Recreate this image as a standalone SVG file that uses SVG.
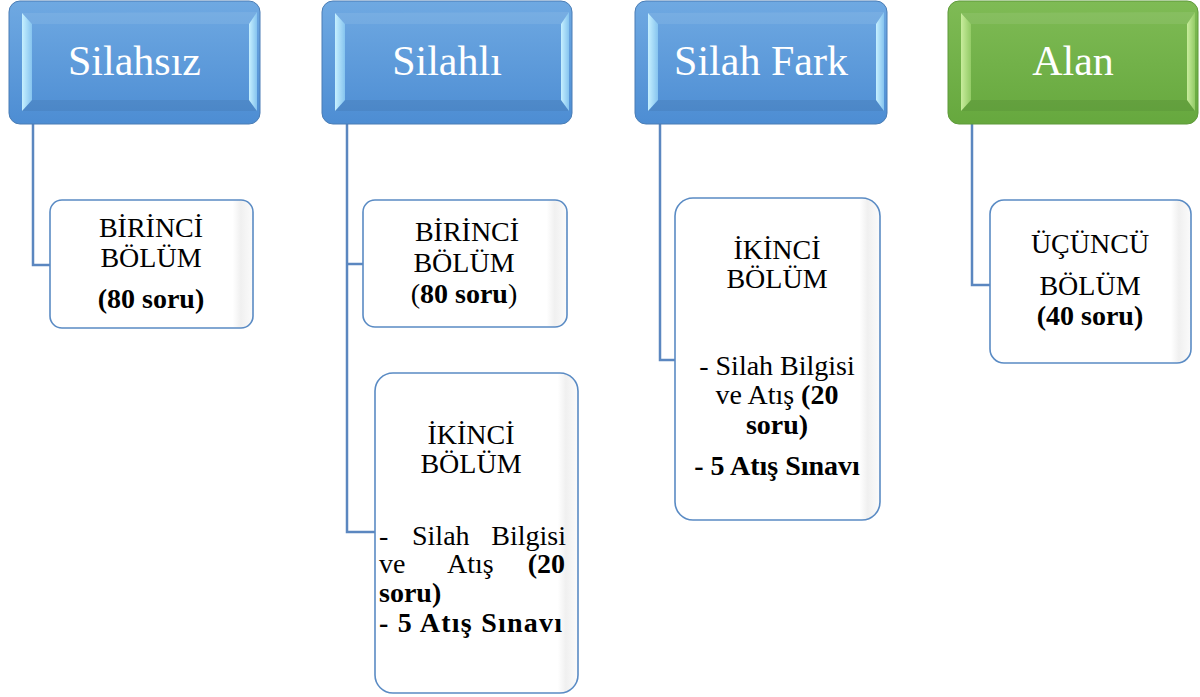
<svg xmlns="http://www.w3.org/2000/svg" width="1200" height="697" viewBox="0 0 1200 697">
<style>
.hdr-t{font-family:"Liberation Serif","Times New Roman",serif;font-size:42px;fill:#ffffff;text-anchor:middle}
.t{font-family:"Liberation Serif","Times New Roman",serif;font-size:28px;fill:#000000}
.c{text-anchor:middle}
.b{font-weight:bold}
.conn{fill:none;stroke:#5b87c0;stroke-width:2.5}
.child{fill:url(#whiteFill);stroke:#5a8bc4;stroke-width:1.6}
.blue{fill:url(#blueFill);stroke:#4a7db5;stroke-width:1}
.green{fill:url(#greenFill);stroke:#5f9a3a;stroke-width:1}
.bl{fill:url(#bevelL)}
.bt{fill:#ffffff;fill-opacity:0.08}
.bb{fill:#000000;fill-opacity:0.06}
.blg{fill:url(#bevelLG)}
</style>
<defs>
<linearGradient id="blueFill" x1="0" y1="0" x2="0" y2="1">
<stop offset="0" stop-color="#6fa9e2"/>
<stop offset="1" stop-color="#4d8dd3"/>
</linearGradient>
<linearGradient id="greenFill" x1="0" y1="0" x2="0" y2="1">
<stop offset="0" stop-color="#7fbb55"/>
<stop offset="1" stop-color="#66a83e"/>
</linearGradient>
<linearGradient id="bevelL" x1="0" y1="0" x2="1" y2="0">
<stop offset="0" stop-color="#c6f0ff"/>
<stop offset="1" stop-color="#86c4ef"/>
</linearGradient>
<linearGradient id="bevelLG" x1="0" y1="0" x2="1" y2="0">
<stop offset="0" stop-color="#c8ec9c"/>
<stop offset="1" stop-color="#93cb66"/>
</linearGradient>
<linearGradient id="whiteFill" x1="0" y1="0" x2="1" y2="0">
<stop offset="0" stop-color="#ffffff"/>
<stop offset="0.9" stop-color="#ffffff"/>
<stop offset="0.94" stop-color="#f0f0f0"/>
<stop offset="1" stop-color="#fbfbfb"/>
</linearGradient>
</defs>
<rect width="1200" height="697" fill="#ffffff"/>

<g id="connectors">
<path class="conn" d="M33,124 V265 H50"/>
<path class="conn" d="M347,124 V532 H375"/>
<path class="conn" d="M347,264 H363"/>
<path class="conn" d="M660,124 V360 H675"/>
<path class="conn" d="M972,124 V285 H990"/>
</g>

<g id="silahsiz">
<rect class="blue" x="9" y="1" width="251" height="123" rx="11"/>
<polygon class="bt" points="22,13 257,12 249,24 32,24"/>
<polygon class="bb" points="32,100 249,100 257,111 22,111"/>
<polygon class="bl" points="22,13 32,24 32,100 22,111"/>
<polygon class="bl" points="257,12 249,24 249,100 257,111"/>
<text class="hdr-t" x="134.5" y="75">Silahsız</text>
</g>

<g id="silahli">
<rect class="blue" x="322" y="1" width="250" height="123" rx="11"/>
<polygon class="bt" points="335,13 569,12 561,24 345,24"/>
<polygon class="bb" points="345,100 561,100 569,111 335,111"/>
<polygon class="bl" points="335,13 345,24 345,100 335,111"/>
<polygon class="bl" points="569,12 561,24 561,100 569,111"/>
<text class="hdr-t" x="447" y="75">Silahlı</text>
</g>

<g id="silahfark">
<rect class="blue" x="635" y="1" width="252" height="123" rx="11"/>
<polygon class="bt" points="648,13 884,12 876,24 658,24"/>
<polygon class="bb" points="658,100 876,100 884,111 648,111"/>
<polygon class="bl" points="648,13 658,24 658,100 648,111"/>
<polygon class="bl" points="884,12 876,24 876,100 884,111"/>
<text class="hdr-t" x="761" y="75">Silah Fark</text>
</g>

<g id="alan">
<rect class="green" x="948" y="1" width="250" height="123" rx="11"/>
<polygon class="bt" points="961,13 1195,12 1187,24 971,24"/>
<polygon class="bb" points="971,100 1187,100 1195,111 961,111"/>
<polygon class="blg" points="961,13 971,24 971,100 961,111"/>
<polygon class="blg" points="1195,12 1187,24 1187,100 1195,111"/>
<text class="hdr-t" x="1073" y="75">Alan</text>
</g>

<g id="silahsiz-birinci">
<rect class="child" x="50" y="200" width="203" height="128" rx="12"/>
<text class="t c" x="151" y="237">BİRİNCİ</text>
<text class="t c" x="151" y="267">BÖLÜM</text>
<text class="t c b" x="151" y="308">(80 soru)</text>
</g>

<g id="silahli-birinci">
<rect class="child" x="363" y="200" width="204" height="127" rx="12"/>
<text class="t c" x="467" y="241">BİRİNCİ</text>
<text class="t c" x="464" y="272">BÖLÜM</text>
<text class="t c" x="464" y="303"><tspan>(</tspan><tspan class="b">80 soru</tspan><tspan>)</tspan></text>
</g>

<g id="silahli-ikinci">
<rect class="child" x="375" y="373" width="203" height="320" rx="18"/>
<text class="t c" x="471" y="444">İKİNCİ</text>
<text class="t c" x="471" y="473">BÖLÜM</text>
<text class="t" x="379" y="545">-</text>
<text class="t" x="412" y="545">Silah</text>
<text class="t" x="566" y="545" text-anchor="end">Bilgisi</text>
<text class="t" x="379" y="573">ve</text>
<text class="t" x="447" y="573">Atış</text>
<text class="t b" x="565" y="573" text-anchor="end">(20</text>
<text class="t b" x="379" y="602">soru)</text>
<text class="t b" x="379" y="632" textLength="183" lengthAdjust="spacing">- 5 Atış Sınavı</text>
</g>

<g id="silahfark-ikinci">
<rect class="child" x="675" y="198" width="205" height="322" rx="18"/>
<text class="t c" x="777" y="259">İKİNCİ</text>
<text class="t c" x="777" y="288">BÖLÜM</text>
<text class="t c" x="777" y="375">- Silah Bilgisi</text>
<text class="t c" x="777" y="404">ve Atış <tspan class="b">(20</tspan></text>
<text class="t c b" x="777" y="434">soru)</text>
<text class="t c b" x="777" y="475">- 5 Atış Sınavı</text>
</g>

<g id="alan-ucuncu">
<rect class="child" x="990" y="200" width="201" height="163" rx="14"/>
<text class="t c" x="1090" y="253">ÜÇÜNCÜ</text>
<text class="t c" x="1090" y="295">BÖLÜM</text>
<text class="t c b" x="1090" y="325">(40 soru)</text>
</g>
</svg>
